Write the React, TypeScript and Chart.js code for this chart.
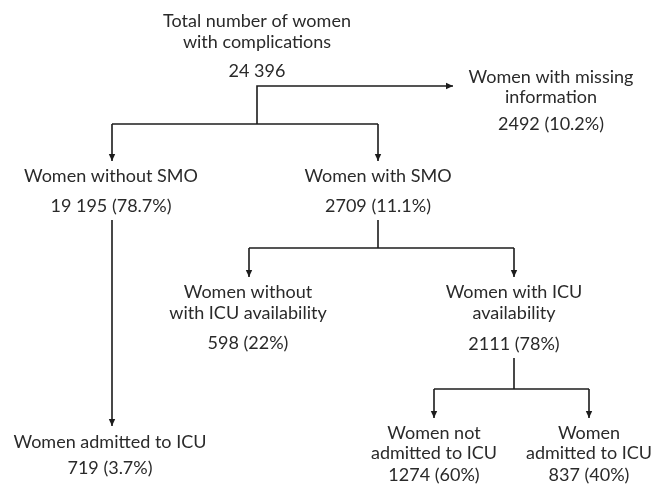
import React, { useEffect, useRef } from "react";
import { Chart, registerables } from "chart.js";

Chart.register(...registerables);

// ---- Data ----
const nodeLabels: string[][] = [
  ["Total number of women", "with complications"],
  ["Women with missing", "information"],
  ["Women without SMO"],
  ["Women with SMO"],
  ["Women without", "with ICU availability"],
  ["Women with ICU", "availability"],
  ["Women admitted to ICU"],
  ["Women not", "admitted to ICU"],
  ["Women", "admitted to ICU"],
];
const nodeCounts: string[] = ["24 396", "2492", "19 195", "2709", "598", "2111", "719", "1274", "837"];
const nodePercents: string[] = ["", "10.2%", "78.7%", "11.1%", "22%", "78%", "3.7%", "60%", "40%"];

// ---- Layout (flowchart positions in chart units) ----
const nodeX: number[] = [257, 551, 111, 378, 248, 514, 110, 434, 589];
const nodeLineY: number[] = [21, 77, 176, 176, 292, 292, 442, 433, 433];
const nodeLineGap: number[] = [21, 20, 0, 0, 21, 21, 0, 20, 20];
const nodeValueY: number[] = [71, 124, 206, 206, 343, 344, 468, 475, 475];

// connectors: polylines [x, y] with optional arrow at the end
const connectors: { pts: [number, number][]; arrow: boolean }[] = [
  { pts: [[257, 124], [257, 86], [453, 86]], arrow: true },
  { pts: [[112, 124], [378, 124]], arrow: false },
  { pts: [[112, 124], [112, 161]], arrow: true },
  { pts: [[378, 124], [378, 161]], arrow: true },
  { pts: [[112, 220], [112, 426]], arrow: true },
  { pts: [[378, 220], [378, 248]], arrow: false },
  { pts: [[249, 248], [514, 248]], arrow: false },
  { pts: [[249, 248], [249, 277]], arrow: true },
  { pts: [[514, 248], [514, 277]], arrow: true },
  { pts: [[514, 358], [514, 389]], arrow: false },
  { pts: [[434, 389], [589, 389]], arrow: false },
  { pts: [[434, 389], [434, 418]], arrow: true },
  { pts: [[589, 389], [589, 418]], arrow: true },
];

const LINE_COLOR = "#1c1c1c";
const TEXT_COLOR = "#2a2a2a";
const FONT = "18px Lato";

const flowPlugin = {
  id: "flowText",
  afterDatasetsDraw(chart: any) {
    const { ctx, scales } = chart;
    const xs = scales.x;
    const ys = scales.y;
    ctx.save();
    // arrowheads
    ctx.fillStyle = LINE_COLOR;
    connectors.forEach((c) => {
      if (!c.arrow) return;
      const n = c.pts.length;
      const [x1, y1] = c.pts[n - 2];
      const [x2, y2] = c.pts[n - 1];
      const px1 = xs.getPixelForValue(x1), py1 = ys.getPixelForValue(y1);
      const px2 = xs.getPixelForValue(x2), py2 = ys.getPixelForValue(y2);
      const ang = Math.atan2(py2 - py1, px2 - px1);
      const len = 7, half = 3.2;
      ctx.beginPath();
      ctx.moveTo(px2, py2);
      ctx.lineTo(px2 - len * Math.cos(ang) - half * Math.sin(ang), py2 - len * Math.sin(ang) + half * Math.cos(ang));
      ctx.lineTo(px2 - len * Math.cos(ang) + half * Math.sin(ang), py2 - len * Math.sin(ang) - half * Math.cos(ang));
      ctx.closePath();
      ctx.fill();
    });
    // texts
    ctx.fillStyle = TEXT_COLOR;
    ctx.font = FONT;
    ctx.textAlign = "center";
    ctx.textBaseline = "middle";
    nodeLabels.forEach((lines, i) => {
      const px = xs.getPixelForValue(nodeX[i]);
      lines.forEach((t, j) => {
        const py = ys.getPixelForValue(nodeLineY[i] + j * nodeLineGap[i]);
        ctx.fillText(t, px, py);
      });
      const val = nodePercents[i] ? `${nodeCounts[i]} (${nodePercents[i]})` : nodeCounts[i];
      ctx.fillText(val, px, ys.getPixelForValue(nodeValueY[i]));
    });
    ctx.restore();
  },
};

export default function App() {
  const ref = useRef<HTMLCanvasElement | null>(null);
  useEffect(() => {
    if (!ref.current) return;
    const chart = new Chart(ref.current, {
      type: "line",
      data: {
        datasets: connectors.map((c) => ({
          data: c.pts.map(([x, y]) => ({ x, y })),
          borderColor: LINE_COLOR,
          borderWidth: 1.6,
          pointRadius: 0,
          fill: false,
          tension: 0,
        })),
      },
      options: {
        animation: false,
        responsive: false,
        devicePixelRatio: 1,
        layout: { padding: 0 },
        plugins: { legend: { display: false }, tooltip: { enabled: false } },
        scales: {
          x: { type: "linear", min: 0, max: 665, display: false },
          y: { type: "linear", min: 0, max: 485, reverse: true, display: false },
        },
      },
      plugins: [flowPlugin],
    });
    return () => chart.destroy();
  }, []);
  return (
    <div style={{ position: "fixed", left: 0, top: 0, width: 665, height: 485, background: "#fff" }}>
      <canvas ref={ref} width={665} height={485} />
    </div>
  );
}
